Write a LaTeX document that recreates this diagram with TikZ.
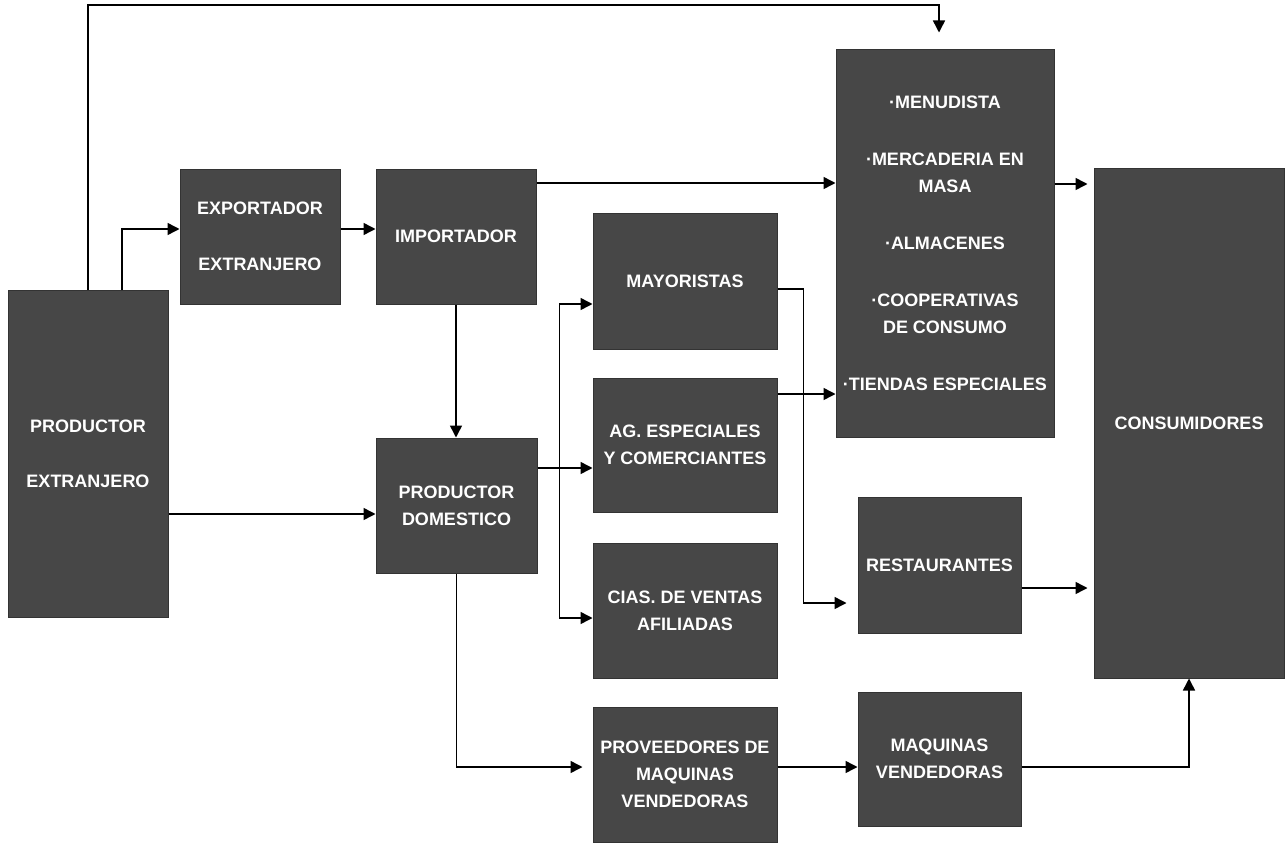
\documentclass[tikz,border=0pt]{standalone}
\usepackage{fontspec}
\setmainfont{Liberation Sans}
\usetikzlibrary{positioning, calc, arrows.meta}
\definecolor{boxgray}{HTML}{474747}
\tikzset{dbox/.style 2 args={draw=black!80, line width=1pt, fill=boxgray, text=white, font=\bfseries\fontsize{18}{27}\selectfont, align=center, inner sep=2pt, minimum width=#1, minimum height=#2}}
\tikzset{arr/.style={draw, -{Triangle[length=12pt, width=12pt]}, line width=1.5pt}}

\begin{document}
\begin{tikzpicture}[x=1pt, y=-1pt]
	\useasboundingbox (0,0) rectangle (1286,843);
	% productores e importacion
	\node[dbox={160pt}{327pt}] (pext) at (88,453.5) {PRODUCTOR\\[28pt]EXTRANJERO};
	\node[dbox={160pt}{135pt}] (expo) at (260,236.5) {EXPORTADOR\\[29pt]EXTRANJERO};
	\node[dbox={160pt}{135pt}] (impo) at (456,236.5) {IMPORTADOR};
	\node[dbox={161pt}{135pt}] (pdom) at (456.5,505.5) {PRODUCTOR\\DOMESTICO};
	% intermediarios
	\node[dbox={184pt}{136pt}] (mayo) at (685,281) {MAYORISTAS};
	\node[dbox={184pt}{134pt}] (agen) at (685,445) {AG. ESPECIALES\\Y COMERCIANTES};
	\node[dbox={184pt}{135pt}] (cias) at (685,610.5) {CIAS. DE VENTAS\\AFILIADAS};
	\node[dbox={184pt}{135pt}] (prov) at (685,774.5) {PROVEEDORES DE\\MAQUINAS\\VENDEDORAS};
	% minoristas y consumo
	\node[dbox={218pt}{387pt}] (mino) at (945,243.5) {·MENUDISTA\\[30pt]·MERCADERIA EN\\MASA\\[30pt]·ALMACENES\\[30pt]·COOPERATIVAS\\DE CONSUMO\\[30pt]·TIENDAS ESPECIALES};
	\node[dbox={163pt}{136pt}] (rest) at (939.5,565) {RESTAURANTES};
	\node[dbox={163pt}{134pt}] (maqv) at (939.5,759) {MAQUINAS\\VENDEDORAS};
	\node[dbox={190pt}{510pt}] (cons) at (1189,423) {CONSUMIDORES};
	% flechas
	\coordinate (top) at (0,5);
	\coordinate (mtop) at ([xshift=-6pt]mino.north);
	\draw[arr, shorten >=17pt] (pext.north) |- (top -| mtop) -- (mtop);
	\draw[arr] ([xshift=34pt]pext.north) |- ([yshift=7.5pt]expo.west);
	\draw[arr] ([yshift=7.5pt]expo.east) -- ([yshift=7.5pt]impo.west);
	\coordinate (i1) at ([yshift=53.5pt]impo.east);
	\draw[arr] (i1) -- (i1 -| mino.west);
	\draw[arr] (impo.south) -- (impo.south |- pdom.north);
	\coordinate (p1) at ([yshift=-60.5pt]pext.east);
	\draw[arr] (p1) -- (p1 -| pdom.west);
	\coordinate (d1) at ([yshift=37.5pt]pdom.east);
	\draw[arr] (d1) -- (d1 -| agen.west);
	\coordinate (d2) at ($(d1)+(22,0)$);
	\draw[arr] (d2) |- ([yshift=-23pt]mayo.west);
	\draw[arr] (d2) |- ([yshift=-7.5pt]cias.west);
	\draw[arr, shorten >=10pt] (pdom.south) |- ([yshift=7.5pt]prov.west);
	\draw[arr] ([yshift=7.5pt]prov.east) -- ([yshift=-8pt]maqv.west);
	\draw[arr] ([yshift=-8pt]maqv.east) -| (cons.south);
	\draw[arr, shorten >=11pt] ([yshift=-8pt]mayo.east) -- ++(26,0) |- ([yshift=-38pt]rest.west);
	\coordinate (a1) at ([yshift=51pt]agen.east);
	\draw[arr] (a1) -- (a1 -| mino.west);
	\coordinate (m1) at ([yshift=59.5pt]mino.east);
	\draw[arr, shorten >=6pt] (m1) -- (m1 -| cons.west);
	\coordinate (r1) at ([yshift=-23pt]rest.east);
	\draw[arr, shorten >=6pt] (r1) -- (r1 -| cons.west);
\end{tikzpicture}
\end{document}
